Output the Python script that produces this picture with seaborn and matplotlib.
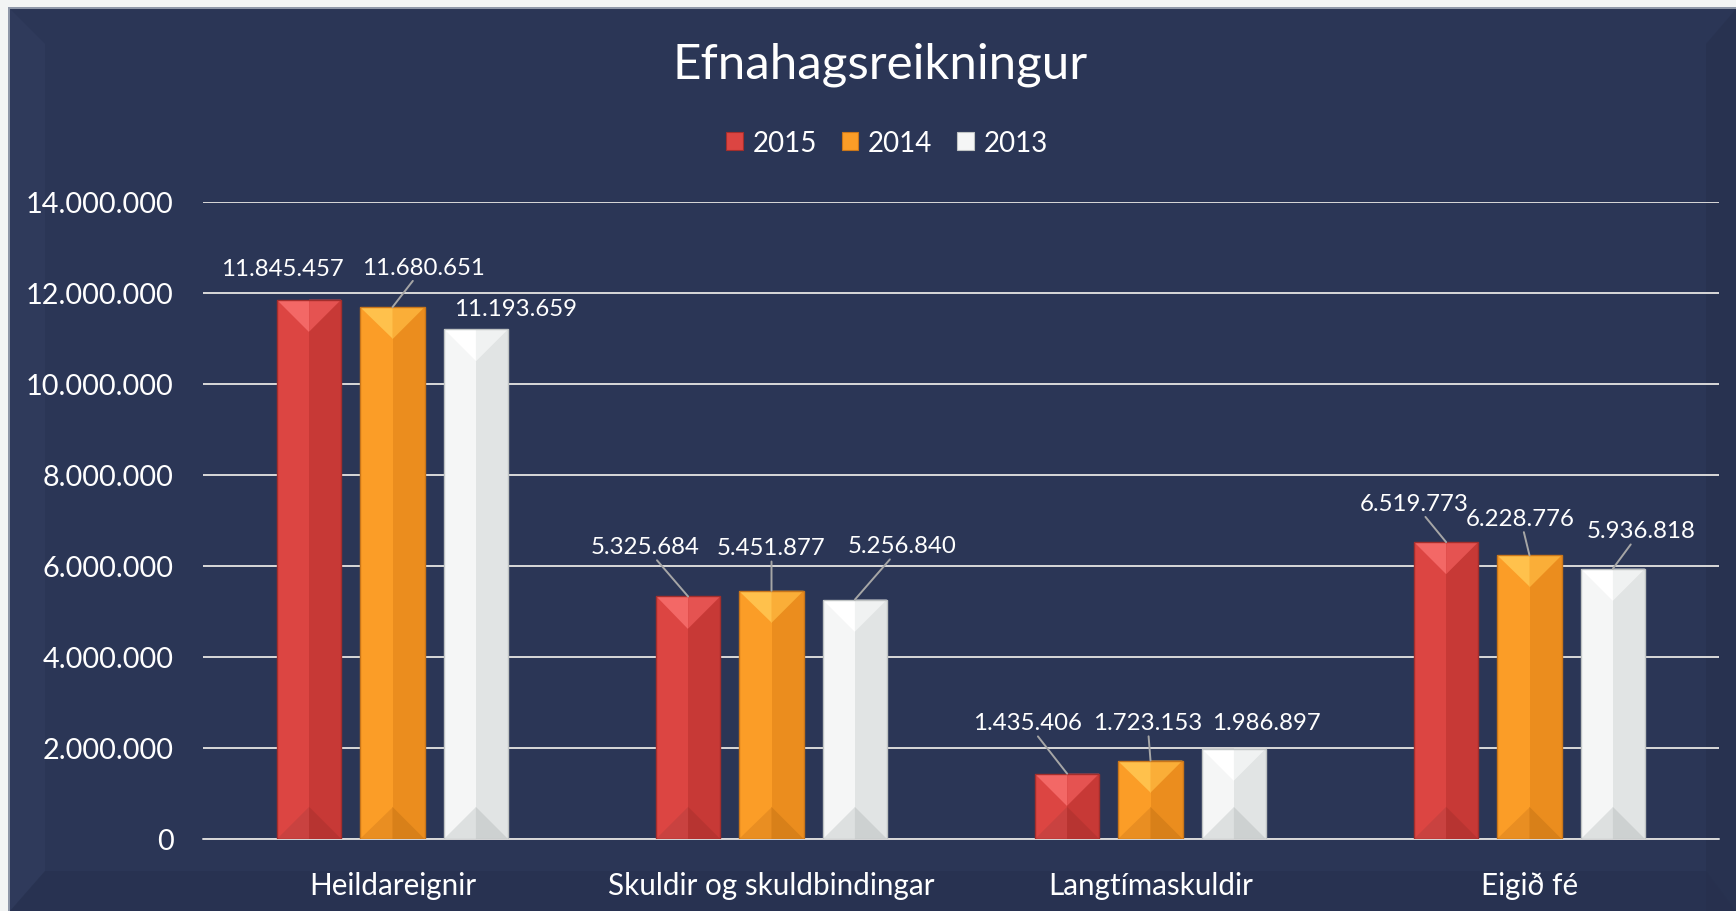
import numpy as np
import pandas as pd
import matplotlib
matplotlib.use("Agg")
import matplotlib.pyplot as plt
import seaborn as sns
from matplotlib.patches import Polygon, Rectangle, Patch
from matplotlib.ticker import FuncFormatter

# ---------------- data ----------------
categories = ["Heildareignir", "Skuldir og skuldbindingar", "Langtímaskuldir", "Eigið fé"]
years = ["2015", "2014", "2013"]
values_2015 = [11845457, 5325684, 1435406, 6519773]
values_2014 = [11680651, 5451877, 1723153, 6228776]
values_2013 = [11193659, 5256840, 1986897, 5936818]
y_ticks = [0, 2000000, 4000000, 6000000, 8000000, 10000000, 12000000, 14000000]
title = "Efnahagsreikningur"

# ---------------- styles ----------------
W, H = 1736, 912
DPI = 100
PANEL = "#2B3656"
OUTER = "#F2F4F4"
TXT = "#FFFFFF"
GRID = "#D9D9D9"
LEADER = "#A6A6A6"
FONT = ["Lato", "DejaVu Sans"]

base_colors = ["#DC4542", "#FB9D27", "#F5F6F6"]
shade = {
    # body_right, top_left, top_right, bottom_left, bottom_right, edge
    "2015": ("#C73936", "#F36866", "#E55351", "#C94240", "#B73431", "#A32E2C"),
    "2014": ("#EB8D1E", "#FFC14C", "#FAAE38", "#E98E22", "#D88019", "#C9761A"),
    "2013": ("#E1E4E4", "#FFFFFF", "#F0F2F2", "#DDE0E0", "#CDD1D1", "#BFC3C3"),
}
# label offsets (pixels, relative to the bar top centre) and whether a leader line is drawn
label_offsets = {
    "2015": [(-27, 31, False), (-43, 50, True), (-40, 51, True), (-32, 39, True)],
    "2014": [(31, 40, True), (0, 43, True), (-3, 38, True), (-9, 37, True)],
    "2013": [(40, 21, False), (47, 54, True), (33, 26, False), (28, 38, True)],
}

sns.set_theme(style="white")
plt.rcParams["font.family"] = FONT

fig = plt.figure(figsize=(W / DPI, H / DPI), dpi=DPI)
fig.patch.set_facecolor(OUTER)

# background panel (pixel coordinates)
bg = fig.add_axes([0, 0, 1, 1], zorder=-5)
bg.set_xlim(0, W)
bg.set_ylim(H, 0)
bg.axis("off")
bg.add_patch(Rectangle((8, 8), W, H, facecolor="#8E97A8", edgecolor="none"))
bg.add_patch(Rectangle((10, 10), W, H, facecolor=PANEL, edgecolor="none"))
grad = np.linspace(1, 0, 60).reshape(-1, 1) ** 1.6
rgba = np.zeros((60, 1, 4))
rgba[..., :3] = np.array([0.55, 0.62, 0.76])
rgba[..., 3] = grad * 0.75
bg.imshow(rgba, extent=(10, W, 50, 10), aspect="auto", interpolation="bilinear")
# bevel corners
bg.add_patch(Polygon([(10, 10), (45, 45), (45, H - 40), (10, H)], closed=True,
                     facecolor="#323E60", edgecolor="none", alpha=0.6))
bg.add_patch(Polygon([(W, 10), (W - 30, 45), (W - 30, H), (W, H)], closed=True,
                     facecolor="#27304D", edgecolor="none", alpha=0.6))
bg.add_patch(Polygon([(10, H), (45, H - 40), (W - 30, H - 40), (W, H)], closed=True,
                     facecolor="#27304D", edgecolor="none", alpha=0.5))

# main axes
ax_left, ax_bottom, ax_w, ax_h = 203 / W, 72 / H, 1516 / W, 637.5 / H
ax = fig.add_axes([ax_left, ax_bottom, ax_w, ax_h], zorder=2)
ax.set_facecolor("none")

df = pd.DataFrame({
    "Flokkur": categories * 3,
    "Ár": [years[0]] * 4 + [years[1]] * 4 + [years[2]] * 4,
    "Gildi": values_2015 + values_2014 + values_2013,
})
sns.barplot(data=df, x="Flokkur", y="Gildi", hue="Ár", hue_order=years,
            palette=base_colors, saturation=1, width=0.66, gap=0.23,
            legend=False, ax=ax, zorder=3, linewidth=0)

ax.set_xlim(-0.5, len(categories) - 0.5)
ax.set_ylim(0, 14000000)
ax.set_yticks(y_ticks)
ax.yaxis.set_major_formatter(FuncFormatter(lambda v, p: f"{int(v):,}".replace(",", ".")))
ax.set_xlabel("")
ax.set_ylabel("")
for s in ax.spines.values():
    s.set_visible(False)
ax.grid(axis="y", color=GRID, linewidth=1.4)
ax.grid(axis="x", visible=False)
ax.set_axisbelow(True)
ax.axhline(0, color=GRID, linewidth=1.4, zorder=2, clip_on=False)
ax.tick_params(axis="y", length=0, pad=21, labelsize=20.8, labelcolor=TXT)
ax.tick_params(axis="x", length=0, pad=23, labelsize=21.3, labelcolor=TXT)

# pixel scales
px_per_x = ax_w * W / len(categories)
px_per_y = ax_h * H / 14000000

series = {"2015": values_2015, "2014": values_2014, "2013": values_2013}
for yi, (yr, cont) in enumerate(zip(years, ax.containers)):
    body_r, top_l, top_r, bot_l, bot_r, edge = shade[yr]
    for ci, bar in enumerate(cont.patches):
        x0 = bar.get_x()
        w = bar.get_width()
        h = bar.get_height()
        xc = x0 + w / 2
        x1 = x0 + w
        t = (w * px_per_x / 2) / px_per_y
        t = min(t, h / 2)
        ax.add_patch(Rectangle((xc, 0), w / 2, h, facecolor=body_r, edgecolor="none", zorder=4))
        ax.add_patch(Polygon([(x0, h), (xc, h), (xc, h - t)], facecolor=top_l, edgecolor="none", zorder=5))
        ax.add_patch(Polygon([(xc, h), (x1, h), (xc, h - t)], facecolor=top_r, edgecolor="none", zorder=5))
        ax.add_patch(Polygon([(x0, 0), (xc, 0), (xc, t)], facecolor=bot_l, edgecolor="none", zorder=5))
        ax.add_patch(Polygon([(xc, 0), (x1, 0), (xc, t)], facecolor=bot_r, edgecolor="none", zorder=5))
        ax.add_patch(Rectangle((x0, 0), w, h, facecolor="none", edgecolor=edge, linewidth=1.0, zorder=6))
        dx, dy, lead = label_offsets[yr][ci]
        val = series[yr][ci]
        txt = f"{val:,}".replace(",", ".")
        kw = {}
        if lead:
            kw["arrowprops"] = dict(arrowstyle="-", color=LEADER, lw=1.4, shrinkA=0, shrinkB=0)
        ax.annotate(txt, xy=(xc, h), xytext=(dx, dy), textcoords="offset pixels",
                    ha="center", va="center", fontsize=17.3, color=TXT, zorder=7,
                    annotation_clip=False, **kw)

# title
fig.text(0.507, 1 - 65 / H, title, ha="center", va="center", fontsize=35.5, color=TXT)

# legend
handles = [Patch(facecolor=c, edgecolor=shade[y][5], linewidth=0.8) for c, y in zip(base_colors, years)]
fig.legend(handles, years, loc="center", bbox_to_anchor=(887 / W, 1 - 144 / H), ncol=3,
           frameon=False, fontsize=20, labelcolor=TXT, handlelength=0.6, handleheight=0.6,
           handletextpad=0.35, columnspacing=0.9)

fig.savefig("out.png", dpi=DPI, facecolor=fig.get_facecolor())
